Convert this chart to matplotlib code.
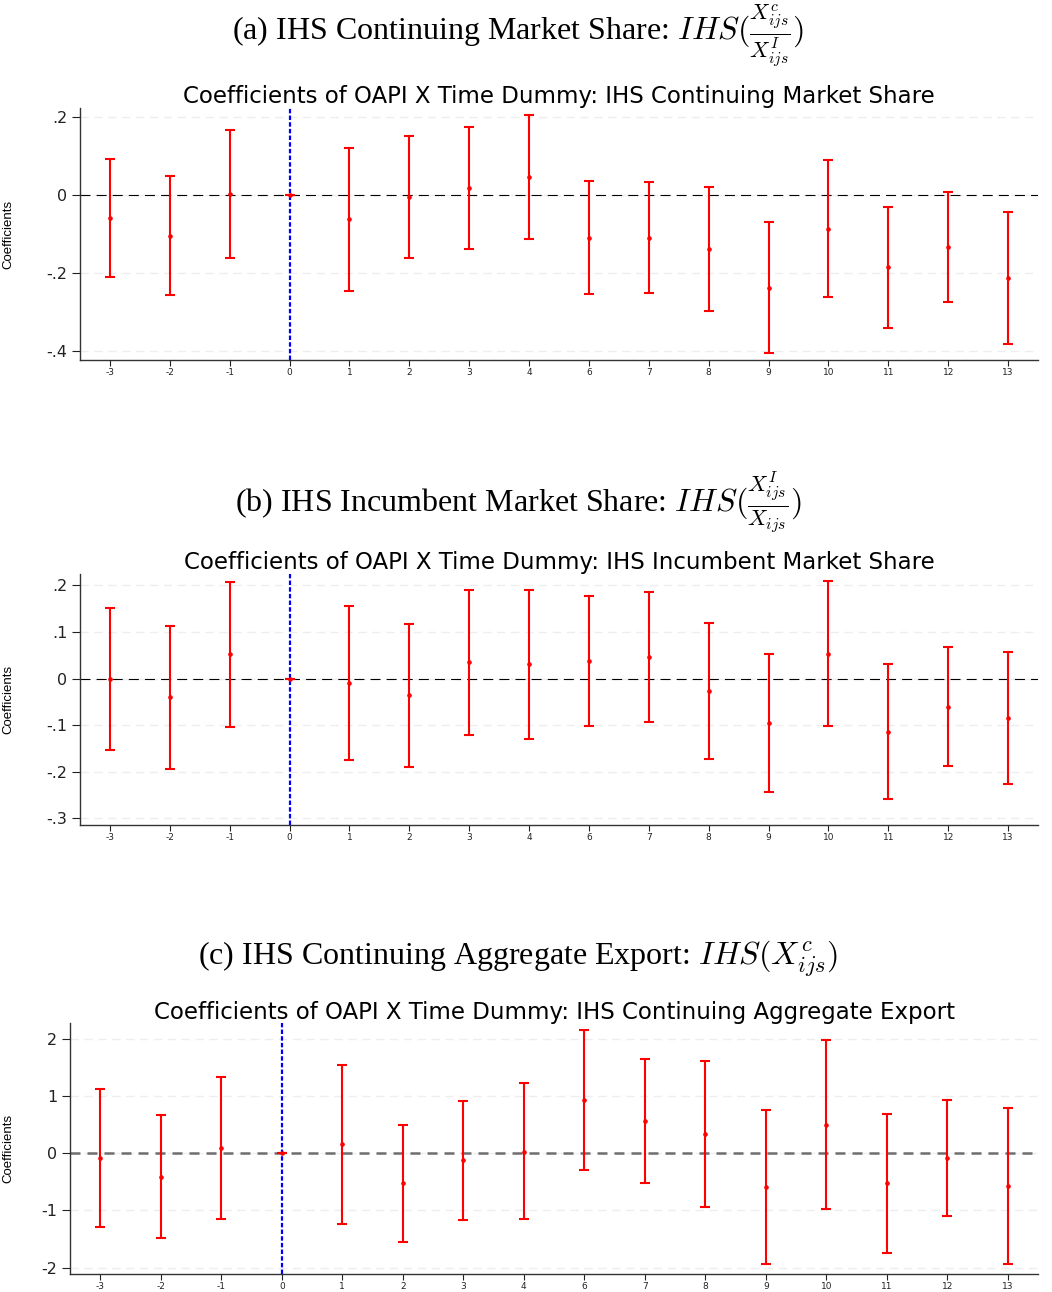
import matplotlib
matplotlib.use('Agg')
import matplotlib.pyplot as plt
import numpy as np

plt.rcParams['mathtext.fontset'] = 'cm'

periods = ['-3', '-2', '-1', '0', '1', '2', '3', '4', '6', '7', '8', '9', '10', '11', '12', '13']

# (a) IHS continuing market share
coef_a = [-0.059, -0.104, 0.003, 0.0, -0.062, -0.005, 0.019, 0.046, -0.109, -0.109, -0.138, -0.237, -0.086, -0.185, -0.133, -0.213]
hi_a = [0.092, 0.048, 0.166, 0.0, 0.122, 0.151, 0.176, 0.206, 0.036, 0.033, 0.022, -0.069, 0.091, -0.030, 0.007, -0.044]
lo_a = [-0.210, -0.255, -0.162, 0.0, -0.247, -0.162, -0.139, -0.112, -0.254, -0.251, -0.297, -0.406, -0.262, -0.341, -0.273, -0.383]

# (b) IHS incumbent market share
coef_b = [0.0, -0.039, 0.053, 0.0, -0.010, -0.036, 0.036, 0.031, 0.038, 0.046, -0.026, -0.096, 0.054, -0.114, -0.060, -0.084]
hi_b = [0.152, 0.114, 0.208, 0.0, 0.155, 0.118, 0.191, 0.191, 0.177, 0.187, 0.120, 0.052, 0.210, 0.031, 0.069, 0.057]
lo_b = [-0.152, -0.193, -0.103, 0.0, -0.175, -0.190, -0.120, -0.129, -0.102, -0.094, -0.173, -0.243, -0.102, -0.258, -0.188, -0.225]

# (c) IHS continuing aggregate export
coef_c = [-0.081, -0.413, 0.093, 0.0, 0.157, -0.529, -0.122, 0.029, 0.930, 0.558, 0.343, -0.599, 0.500, -0.529, -0.081, -0.576]
hi_c = [1.122, 0.674, 1.331, 0.0, 1.547, 0.488, 0.919, 1.227, 2.157, 1.640, 1.605, 0.750, 1.983, 0.686, 0.936, 0.791]
lo_c = [-1.285, -1.488, -1.151, 0.0, -1.238, -1.547, -1.163, -1.157, -0.297, -0.529, -0.936, -1.942, -0.983, -1.750, -1.105, -1.942]

yt_a = [0.2, 0, -0.2, -0.4]
ytl_a = ['.2', '0', '-.2', '-.4']
yt_b = [0.2, 0.1, 0, -0.1, -0.2, -0.3]
ytl_b = ['.2', '.1', '0', '-.1', '-.2', '-.3']
yt_c = [2, 1, 0, -1, -2]
ytl_c = ['2', '1', '0', '-1', '-2']

W, H = 1052, 1292
fig = plt.figure(figsize=(W / 100, H / 100), dpi=100)


def panel(left, top, right, bottom, coef, lo, hi, ylim, yt, ytl, inner, zero_gray=False):
    ax = fig.add_axes([left / W, 1 - bottom / H, (right - left) / W, (bottom - top) / H])
    x = np.arange(len(periods))
    coef = np.array(coef)
    err = [coef - np.array(lo), np.array(hi) - coef]
    for t in yt:
        ax.axhline(t, color='#eeeeee', lw=1, ls=(0, (6, 4)), zorder=0)
    if zero_gray:
        ax.axhline(0, color='#6e6e6e', lw=1.8, ls=(0, (4, 2.8)), zorder=1)
    else:
        ax.axhline(0, color='black', lw=0.8, ls=(0, (9, 5.5)), zorder=1)
    ax.axvline(3, color='#0000ff', lw=1.6, ls=(0, (2, 1)), zorder=2)
    ax.errorbar(x, coef, yerr=err, fmt='o', color='#ff0000', ms=2.3, elinewidth=1.5,
                capsize=3.5, capthick=1.5, zorder=3)
    ax.set_xlim(-0.5, 15.5)
    ax.set_ylim(*ylim)
    ax.set_xticks(x)
    ax.set_xticklabels(periods, fontsize=6.5)
    ax.set_yticks(yt)
    ax.set_yticklabels(ytl, fontsize=11.5)
    ax.tick_params(axis='x', length=4, width=0.8, pad=2, colors='#222222')
    ax.tick_params(axis='y', length=6, width=0.8, pad=3, colors='#222222')
    for s in ['top', 'right']:
        ax.spines[s].set_visible(False)
    for s in ['left', 'bottom']:
        ax.spines[s].set_color('#333333')
        ax.spines[s].set_linewidth(1)
    ax.set_ylabel('Coefficients', fontsize=9.5, family=['Liberation Sans', 'DejaVu Sans'])
    ax.yaxis.set_label_coords((14 - left) / (right - left), 0.5)
    ax.text(0.5, 1 + 11 / (bottom - top), inner, transform=ax.transAxes, ha='center', va='center',
            fontsize=16.5, family='DejaVu Sans')
    return ax


panel(80, 108, 1038, 360, coef_a, lo_a, hi_a, (-0.423, 0.2236), yt_a, ytl_a,
      'Coefficients of OAPI X Time Dummy: IHS Continuing Market Share')
panel(80, 574, 1038, 825, coef_b, lo_b, hi_b, (-0.314, 0.2246), yt_b, ytl_b,
      'Coefficients of OAPI X Time Dummy: IHS Incumbent Market Share')
panel(70, 1023, 1038, 1274, coef_c, lo_c, hi_c, (-2.11, 2.273), yt_c, ytl_c,
      'Coefficients of OAPI X Time Dummy: IHS Continuing Aggregate Export', zero_gray=True)

serif = ['Liberation Serif', 'DejaVu Serif']
fig.text(518 / W, 1 - 36 / H, r'(a) IHS Continuing Market Share: $IHS(\frac{X^c_{ijs}}{X^I_{ijs}})$',
         ha='center', va='center', fontsize=23, family=serif)
fig.text(518 / W, 1 - 503 / H, r'(b) IHS Incumbent Market Share: $IHS(\frac{X^I_{ijs}}{X_{ijs}})$',
         ha='center', va='center', fontsize=23, family=serif)
fig.text(518 / W, 1 - 958 / H, r'(c) IHS Continuing Aggregate Export: $IHS(X^c_{ijs})$',
         ha='center', va='center', fontsize=23, family=serif)

fig.savefig('out.png', dpi=100)
